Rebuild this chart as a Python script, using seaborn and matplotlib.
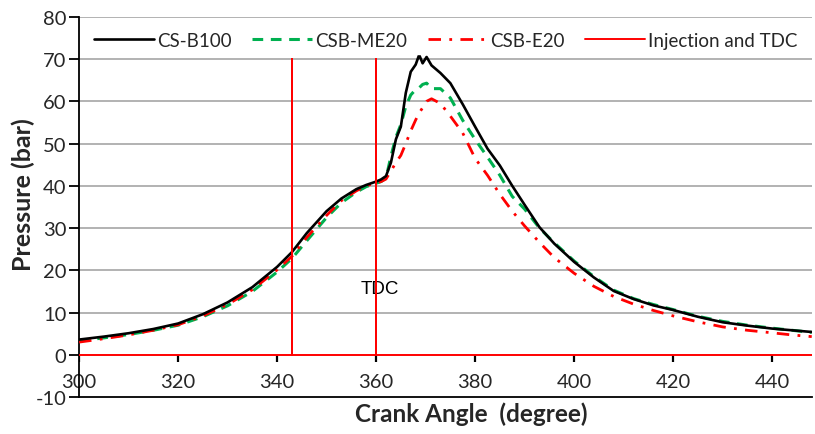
import numpy as np
import pandas as pd
import matplotlib
matplotlib.use("Agg")
import matplotlib.pyplot as plt
import seaborn as sns

angle = [300, 305, 310, 315, 320, 325, 330, 335, 340, 343, 346, 350, 353, 356, 358,
         360, 361, 362, 363, 364, 365, 366, 367, 368, 368.7, 369.4, 370.2, 371.2,
         373, 375, 377.5, 380, 382.5, 385, 387.5, 390, 393, 396, 400, 404, 408,
         412, 416, 420, 425, 430, 435, 440, 444, 448]

cs_b100 = [3.6, 4.3, 5.1, 6.1, 7.4, 9.6, 12.4, 16.0, 20.8, 24.3, 28.8, 34.0, 37.0, 39.2, 40.2,
           41.0, 41.5, 42.3, 45.5, 51.0, 54.0, 62.0, 67.0, 68.7, 71.0, 69.0, 70.5, 68.5,
           66.7, 64.3, 59.3, 54.0, 48.8, 44.8, 40.0, 35.5, 30.2, 26.3, 22.0, 18.3, 15.1,
           13.2, 11.7, 10.6, 9.0, 7.7, 6.9, 6.2, 5.8, 5.4]

csb_me20 = [3.3, 4.0, 4.8, 5.8, 7.0, 9.0, 11.6, 15.0, 19.6, 22.8, 27.0, 32.5, 36.0, 38.5, 39.8,
            40.6, 41.0, 41.8, 47.0, 51.5, 54.5, 58.8, 61.5, 62.8, 63.2, 64.0, 64.3, 63.0,
            63.0, 60.8, 55.5, 51.0, 46.8, 42.5, 37.5, 34.5, 30.0, 26.5, 22.2, 18.5, 15.3,
            13.3, 11.9, 10.7, 9.1, 7.9, 7.0, 6.3, 5.8, 5.3]

csb_e20 = [3.0, 3.8, 4.7, 5.8, 7.1, 9.2, 11.9, 15.4, 20.1, 23.3, 27.8, 33.0, 36.5, 38.8, 40.0,
           40.7, 41.0, 41.6, 43.5, 45.5, 47.2, 50.0, 53.0, 55.6, 57.2, 58.5, 60.0, 60.6,
           59.5, 56.5, 52.5, 46.5, 42.5, 38.0, 34.0, 30.5, 26.6, 23.0, 19.3, 16.2, 13.8,
           12.0, 10.5, 9.2, 7.8, 6.6, 5.8, 5.2, 4.7, 4.3]

inj_angle = [300, 343, 343, 343, 360, 360, 360, 448]
inj_value = [0, 0, 70, 0, 0, 70, 0, 0]

x_ticks = [300, 320, 340, 360, 380, 400, 420, 440]
y_ticks = [-10, 0, 10, 20, 30, 40, 50, 60, 70, 80]

sns.set_style("white")
plt.rcParams['font.family'] = ['Lato', 'DejaVu Sans']
plt.rcParams['axes.unicode_minus'] = False

fig = plt.figure(figsize=(8.15, 4.35), dpi=100)
ax = fig.add_axes([0.097, 0.085, 0.899, 0.874])

ax.set_xlim(300, 448)
ax.set_ylim(-10, 80)
ax.set_yticks(y_ticks)
ax.set_xticks(x_ticks)

# gridlines
for yv in y_ticks[2:]:
    ax.axhline(yv, color='#a6a6a6', lw=1.2, zorder=0)

sns.lineplot(x=angle, y=cs_b100, color='black', lw=1.9, ax=ax, label='CS-B100',
             estimator=None, sort=False, zorder=4)
sns.lineplot(x=angle, y=csb_me20, color='#00b050', lw=2.2, ax=ax, label='CSB-ME20',
             estimator=None, sort=False, zorder=3)
ax.lines[-1].set_dashes((3.5, 2.5))
sns.lineplot(x=angle, y=csb_e20, color='#ff0000', lw=2.0, ax=ax, label='CSB-E20',
             estimator=None, sort=False, zorder=3)
ax.lines[-1].set_dashes((4.5, 3, 1, 3))
sns.lineplot(x=inj_angle, y=inj_value, color='#ff0000', lw=1.4, ax=ax,
             label='Injection and TDC', estimator=None, sort=False, zorder=5)

# x tick marks on the zero line
ax.vlines(x_ticks, -1.6, 0, color='black', lw=1.6, zorder=2)

ax.text(360.8, 15.8, 'TDC', fontsize=13.5, family=['Liberation Sans', 'DejaVu Sans'],
        ha='center', va='center', color='black')

for s in ['top', 'right']:
    ax.spines[s].set_visible(False)
ax.spines['left'].set_color('black')
ax.spines['bottom'].set_color('black')
ax.spines['left'].set_linewidth(1.3)
ax.spines['bottom'].set_linewidth(1.3)

ax.tick_params(axis='y', which='major', direction='out', length=7, width=1.3,
               color='black', left=True, labelsize=14.5, pad=2)
ax.tick_params(axis='x', which='major', length=0, labelsize=14.5, pad=-5)
for lab in ax.get_xticklabels():
    lab.set_verticalalignment('bottom')

ax.set_xlabel('Crank Angle  (degree)', fontsize=17.5, fontweight='bold')
ax.set_ylabel('Pressure (bar)', fontsize=18, fontweight='bold')
ax.xaxis.set_label_coords(0.535, -0.012, transform=ax.transAxes)
ax.xaxis.label.set_verticalalignment('top')
ax.yaxis.set_label_coords(-0.060, 0.534, transform=ax.transAxes)

leg = ax.legend(loc='upper left', bbox_to_anchor=(0.0, 1.0), ncol=4, frameon=True,
                fontsize=13.5, handlelength=3.2, columnspacing=1.1, handletextpad=0.15,
                borderaxespad=0.5, borderpad=0.3)
leg.get_frame().set_facecolor('white')
leg.get_frame().set_edgecolor('white')
leg.get_frame().set_alpha(1.0)
leg.set_zorder(10)

fig.savefig('out.png', dpi=100)
